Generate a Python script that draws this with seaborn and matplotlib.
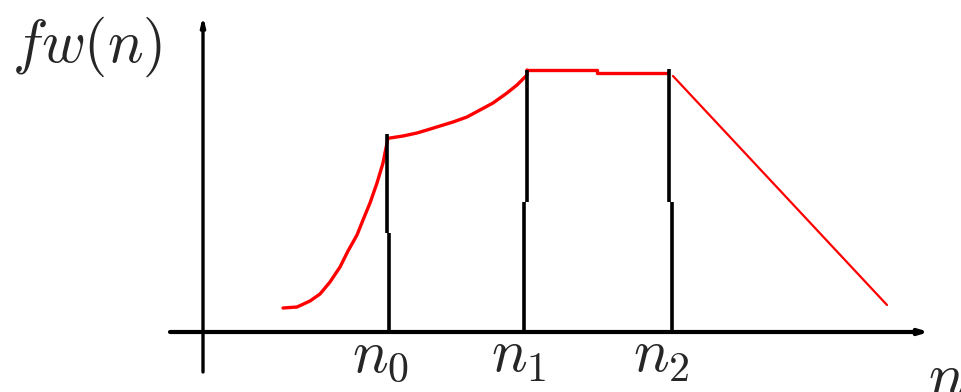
import numpy as np
import pandas as pd
import matplotlib
matplotlib.use('Agg')
import matplotlib.pyplot as plt
import seaborn as sns

# -------------------------------------------
# данные (схема кусочной функции)
n_pos = [1.85, 3.24, 4.66]              # n0, n1, n2
n_names = [r'$n_0$', r'$n_1$', r'$n_2$']

# участок 1: выпуклый рост до n0
seg1_x = [0.80, 0.94, 1.07, 1.17, 1.27, 1.37, 1.45, 1.54, 1.60, 1.67, 1.74, 1.80, 1.83, 1.85]
seg1_y = [0.24, 0.25, 0.31, 0.38, 0.50, 0.65, 0.81, 0.97, 1.12, 1.29, 1.49, 1.69, 1.84, 1.94]
# участок 2: от n0 до n1
seg2_x = [1.87, 2.00, 2.14, 2.24, 2.37, 2.50, 2.64, 2.77, 2.90, 3.04, 3.14, 3.24, 3.24]
seg2_y = [1.94, 1.96, 1.99, 2.02, 2.06, 2.10, 2.15, 2.22, 2.29, 2.39, 2.47, 2.57, 2.62]
# участок 3: плато от n1 до n2
seg3_x = [3.24, 3.94, 3.94, 4.65]
seg3_y = [2.62, 2.62, 2.59, 2.59]
# участок 4: линейный спад после n2
seg4_x = [4.70, 6.84]
seg4_y = [2.56, 0.27]

# вертикальные линии (верх, x верхней части, x нижней части, точка излома)
vl_top = [1.98, 2.62, 2.63]
vl_x_up = [1.84, 3.24, 4.66]
vl_x_lo = [1.86, 3.21, 4.69]
vl_break = [0.99, 1.30, 1.30]

# -------------------------------------------
sns.set_style('white')
plt.rcParams['mathtext.fontset'] = 'cm'

fig = plt.figure(figsize=(9.62, 3.92), dpi=100)
ax = fig.add_axes([0, 0, 1, 1])
ax.set_xlim(-2.03, 7.59)
ax.set_ylim(-0.60, 3.32)
ax.axis('off')

# красная кривая
df = pd.concat([
    pd.DataFrame({'x': seg1_x, 'y': seg1_y, 'seg': 1}),
    pd.DataFrame({'x': seg2_x, 'y': seg2_y, 'seg': 2}),
    pd.DataFrame({'x': seg3_x, 'y': seg3_y, 'seg': 3}),
])
sns.lineplot(data=df, x='x', y='y', units='seg', estimator=None, sort=False,
             color='red', lw=2.4, ax=ax)
sns.lineplot(x=seg4_x, y=seg4_y, sort=False, color='red', lw=1.6, ax=ax)

# вертикальные линии на n0, n1, n2
for top, xu, xl, br in zip(vl_top, vl_x_up, vl_x_lo, vl_break):
    ax.plot([xu, xu], [top, br], color='black', lw=2.6, solid_capstyle='butt')
    ax.plot([xl, xl], [br, 0], color='black', lw=2.6, solid_capstyle='butt')

# оси
ax.annotate('', xy=(7.26, 0), xytext=(-0.33, 0),
            arrowprops=dict(arrowstyle='-|>,head_length=0.5,head_width=0.15',
                            color='black', lw=3.0, shrinkA=0, shrinkB=0))
ax.annotate('', xy=(0, 3.16), xytext=(0, -0.40),
            arrowprops=dict(arrowstyle='-|>,head_length=0.5,head_width=0.12',
                            color='black', lw=2.4, shrinkA=0, shrinkB=0))

# подписи
ax.text(-1.91, 2.70, r'$fw(n)$', fontsize=43, ha='left', va='baseline')
for x, name in zip(n_pos, n_names):
    ax.text(x - 0.36, -0.40, name, fontsize=43, ha='left', va='baseline')
ax.text(7.25, -0.63, r'$n$', fontsize=43, ha='left', va='baseline')

plt.savefig('out.png', dpi=100)
